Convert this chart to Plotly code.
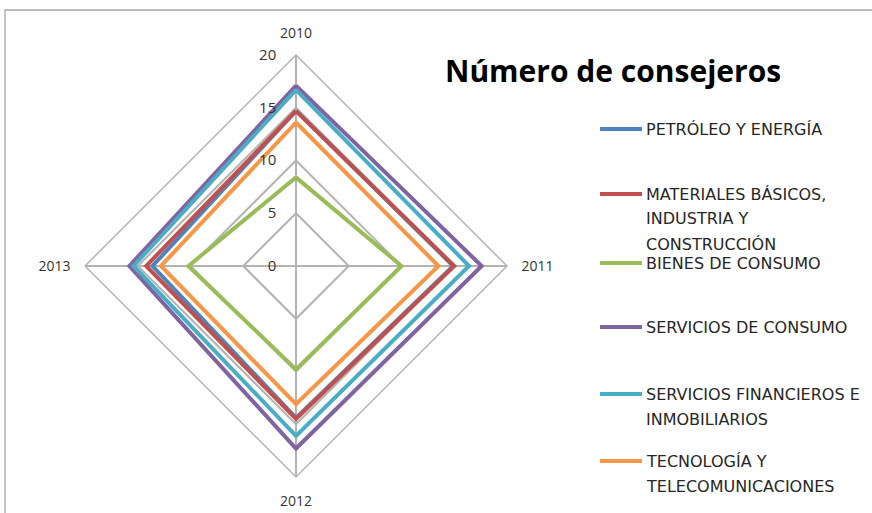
import plotly.graph_objects as go

years = ["2010", "2011", "2012", "2013"]

sectors = [
    "PETRÓLEO Y ENERGÍA",
    "MATERIALES BÁSICOS,<br>INDUSTRIA Y<br>CONSTRUCCIÓN",
    "BIENES DE CONSUMO",
    "SERVICIOS DE CONSUMO",
    "SERVICIOS FINANCIEROS E<br>INMOBILIARIOS",
    "TECNOLOGÍA Y<br>TELECOMUNICACIONES",
]

petroleo = [14.7, 14.9, 14.4, 13.6]
materiales = [14.7, 15.0, 14.5, 14.2]
bienes = [8.4, 10.0, 9.8, 10.2]
servicios_consumo = [17.1, 17.6, 17.3, 15.8]
financieros = [16.7, 16.4, 16.1, 15.4]
tecnologia = [13.6, 13.5, 13.1, 12.8]

series = [petroleo, materiales, bienes, servicios_consumo, financieros, tecnologia]
colors = ["#4F81BD", "#C0504D", "#9BBB59", "#8064A2", "#4BACC6", "#F79646"]

W, H = 872, 513
cx, cy, rad = 296, 266, 211
grid = "#b3b3b3"

fig = go.Figure()
for name, vals, col in zip(sectors, series, colors):
    fig.add_trace(go.Scatterpolar(
        r=vals + vals[:1],
        theta=years + years[:1],
        mode="lines",
        line=dict(color=col, width=4),
        name=name.replace("<br>", " "),
        showlegend=False,
    ))

fig.update_layout(
    width=W, height=H,
    margin=dict(l=0, r=0, t=0, b=0),
    paper_bgcolor="white",
    font=dict(family="Open Sans, Arial", color="#404040"),
    polar=dict(
        domain=dict(x=[(cx - rad) / W, (cx + rad) / W],
                    y=[(H - cy - rad) / H, (H - cy + rad) / H]),
        bgcolor="white",
        gridshape="linear",
        radialaxis=dict(
            range=[0, 20], tickvals=[0, 5, 10, 15, 20],
            angle=90, side="counterclockwise", tickangle=90,
            showline=False,
            ticks="outside", ticklen=14, tickcolor="rgba(0,0,0,0)",
            gridcolor=grid, gridwidth=1.5,
            tickfont=dict(size=15, color="#333333"),
        ),
        angularaxis=dict(
            direction="clockwise", rotation=90,
            showline=True, linecolor=grid, linewidth=1.5,
            gridcolor=grid, gridwidth=1.5,
            ticks="outside", ticklen=11, tickcolor="rgba(0,0,0,0)",
            tickfont=dict(size=14, color="#333333"),
        ),
    ),
)

# chart title
fig.add_annotation(
    text="<b>Número de consejeros</b>", x=613 / W, y=1 - 70 / H,
    xref="paper", yref="paper", showarrow=False,
    xanchor="center", yanchor="middle",
    font=dict(size=30, color="black", family="Open Sans, Arial"),
)

# legend drawn by hand (Excel-like spacing)
leg_y = [129, 194, 263, 327, 394, 461]
for name, col, ly in zip(sectors, colors, leg_y):
    fig.add_shape(type="line", xref="paper", yref="paper",
                  x0=600 / W, x1=642 / W, y0=1 - ly / H, y1=1 - ly / H,
                  line=dict(color=col, width=4))
    for i, part in enumerate(name.split("<br>")):
        fig.add_annotation(
            text=part, x=644 / W, y=1 - (ly + 25 * i) / H,
            xref="paper", yref="paper", showarrow=False,
            xanchor="left", yanchor="middle", align="left",
            font=dict(size=16, color="#262626", family="DejaVu Sans, Open Sans"),
        )

# chart area frame
fig.add_shape(type="rect", xref="paper", yref="paper",
              x0=5 / W, x1=1.02, y0=-0.02, y1=1 - 10 / H,
              line=dict(color="#a6a6a6", width=1.3))

fig.write_html("out.html", config={"displayModeBar": False},
               post_script="document.body.style.margin='0';")
